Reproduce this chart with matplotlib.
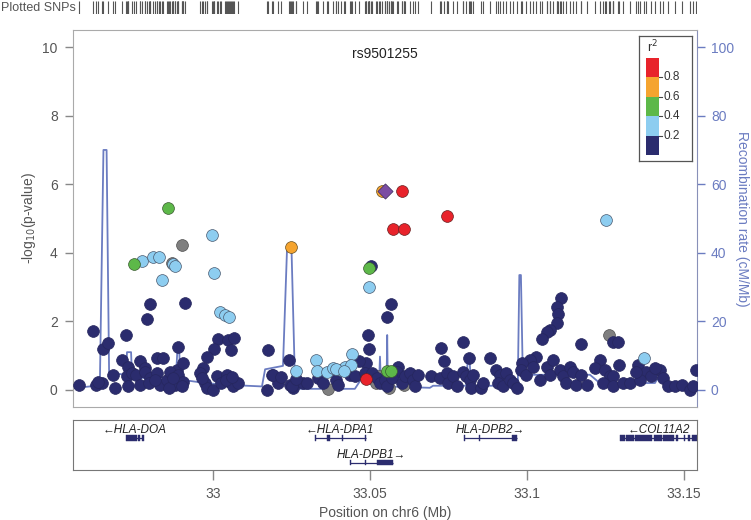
import matplotlib
matplotlib.use("Agg")
import matplotlib.pyplot as plt
from matplotlib.patches import Rectangle

plt.rcParams['font.family'] = ['Liberation Sans', 'DejaVu Sans']

# ---------------- data ----------------
navy_pos = [32.9619, 32.9651, 32.9665, 32.9722, 32.9799, 32.9790, 32.9912, 32.9889, 33.0016, 33.0049,
            33.0068, 33.0003, 33.0058, 33.0176, 32.9980, 33.0242, 33.0493, 33.0498, 33.0489, 33.0566,
            33.0553, 33.0502, 33.1108, 33.1095, 33.1098, 33.1095, 33.1073, 33.1064, 33.1047, 33.1172,
            33.0795, 33.0728, 33.0882, 33.0816, 33.0735, 33.1030, 33.1010, 33.0986, 33.1232, 33.1275,
            33.1291, 33.1294, 33.1354, 32.9709, 32.9730, 32.9768, 32.9783, 32.9821, 32.9842, 32.9884,
            32.9905, 32.9969, 33.0465, 33.0590, 33.0585, 33.0903, 33.1381, 33.1424, 33.1538,
            32.9573, 32.9626, 32.9646, 32.9683, 32.9688, 32.9725, 32.9741, 32.9730, 32.9756, 32.9768,
            32.9783, 32.9799, 32.9821, 32.9831, 32.9853, 32.9863, 32.9879, 32.9890, 32.9905, 32.9959,
            32.9975, 32.9980, 33.0001, 33.0012, 33.0044, 33.0054, 33.0065, 33.0081, 33.0171, 33.0187,
            33.0208, 33.0245, 33.0256, 33.0288, 32.9635, 32.9797, 32.9815, 32.9860, 32.9872, 32.9900,
            32.9965, 33.0025, 33.0040, 33.0060, 33.0190, 33.0217, 33.0251, 33.0264,
            33.0298, 33.0335, 33.0351, 33.0393, 33.0399, 33.0436, 33.0452, 33.0484, 33.0505, 33.0521,
            33.0532, 33.0548, 33.0553, 33.0569, 33.0601, 33.0611, 33.0627, 33.0638, 33.0643, 33.0654,
            33.0696, 33.0723, 33.0744, 33.0749, 33.0765, 33.0776, 33.0797, 33.0807, 33.0818, 33.0823,
            33.0829, 33.0855, 33.0861, 33.0914, 33.0908, 33.0924, 33.0935, 33.0946, 33.0956, 33.0967,
            33.0982, 33.0998, 33.1020, 33.1041, 33.1063, 33.1073, 33.1084, 33.1105, 33.1116, 33.1126,
            33.1137, 33.1148, 33.1158, 33.1174, 33.1190, 33.1217, 33.1248, 33.1264, 33.1243, 33.1275,
            33.1275, 33.1307, 33.1328, 33.1397, 33.1408, 33.1434, 33.1450, 33.1471, 33.1493, 33.1519,
            33.1530, 33.1360, 33.1347]
navy_logp = [1.73, 1.19, 1.36, 1.59, 2.51, 2.06, 2.53, 1.25, 1.48, 1.46,
             1.51, 1.19, 1.15, 1.15, 0.95, 0.87, 1.60, 1.19, 0.78, 2.51,
             2.14, 3.60, 2.69, 2.43, 2.22, 1.94, 1.75, 1.70, 1.49, 1.33,
             1.41, 1.21, 0.94, 0.92, 0.83, 0.97, 0.87, 0.78, 0.87, 1.41,
             1.41, 0.73, 0.73, 0.87, 0.68, 0.83, 0.63, 0.92, 0.94, 0.58,
             0.78, 0.63, 0.83, 0.68, 0.53, 0.58, 0.53, 0.58, 0.58,
             0.13, 0.15, 0.20, 0.44, 0.05, 0.39, 0.49, 0.10, 0.44, 0.15,
             0.53, 0.34, 0.49, 0.15, 0.29, 0.53, 0.15, 0.44, 0.24, 0.49,
             0.20, 0.05, 0.00, 0.39, 0.44, 0.24, 0.10, 0.20, 0.00, 0.44,
             0.20, 0.15, 0.05, 0.20, 0.24, 0.20, 0.30, 0.06, 0.34, 0.10,
             0.35, 0.20, 0.30, 0.38, 0.44, 0.38, 0.10, 0.32,
             0.20, 0.34, 0.20, 0.29, 0.15, 0.44, 0.39, 0.49, 0.49, 0.34,
             0.20, 0.29, 0.10, 0.34, 0.20, 0.39, 0.49, 0.29, 0.10, 0.44,
             0.39, 0.34, 0.49, 0.20, 0.39, 0.10, 0.53, 0.39, 0.29, 0.05,
             0.44, 0.05, 0.20, 0.44, 0.20, 0.10, 0.49, 0.29, 0.20, 0.05,
             0.58, 0.44, 0.68, 0.29, 0.68, 0.44, 0.87, 0.58, 0.39, 0.20,
             0.68, 0.53, 0.15, 0.44, 0.15, 0.63, 0.58, 0.39, 0.20, 0.39,
             0.10, 0.20, 0.20, 0.39, 0.63, 0.34, 0.10, 0.10, 0.15, 0.00,
             0.10, 0.29, 0.52]

lblue_pos = [32.9996, 32.9774, 32.9810, 32.9827, 32.9874, 32.9880, 32.9839, 33.0002, 33.0022, 33.0038,
             33.0052, 33.1252, 33.1374, 33.0497, 33.0328, 33.0263, 33.0330, 33.0362, 33.0383, 33.0407,
             33.0421, 33.0442, 33.0440, 33.0393, 33.0417]
lblue_logp = [4.53, 3.75, 3.89, 3.89, 3.67, 3.62, 3.21, 3.41, 2.28, 2.19,
              2.12, 4.97, 0.92, 3.01, 0.87, 0.55, 0.55, 0.53, 0.63, 0.58,
              0.68, 1.05, 0.73, 0.61, 0.56]

green_pos = [32.9856, 32.9747, 33.0497, 33.0555, 33.0566]
green_logp = [5.30, 3.67, 3.55, 0.55, 0.55]

orange_pos = [33.0247, 33.0540]
orange_logp = [4.16, 5.80]

red_pos = [33.0603, 33.0572, 33.0607, 33.0744, 33.0489]
red_logp = [5.80, 4.70, 4.70, 5.08, 0.32]

gray_pos = [32.9900, 32.9869, 33.1262, 33.0367, 33.0520, 33.0560, 33.0610, 33.0530]
gray_logp = [4.23, 3.70, 1.60, 0.02, 0.20, 0.05, 0.15, 0.40]

index_snp = "rs9501255"
index_pos = 33.0548
index_logp = 5.80

rec_pos = [32.9554, 32.9608, 32.9631, 32.9640, 32.9651, 32.9661, 32.9669, 32.9723, 32.9726, 32.9739,
           32.9742, 32.9882, 32.9887, 32.9892, 32.9896, 32.9975, 33.0038, 33.0156, 33.0166, 33.0223,
           33.0236, 33.0250, 33.0261, 33.0277, 33.0452, 33.0475, 33.0487, 33.0506, 33.0529, 33.0532,
           33.0535, 33.0553, 33.0555, 33.0557, 33.0691, 33.0701, 33.0807, 33.0811, 33.0818, 33.0822,
           33.0971, 33.0976, 33.0981, 33.0987, 33.1201, 33.1232, 33.1408, 33.1424, 33.1439, 33.1541]
rec_rate = [0.5, 1.0, 2.5, 4.0, 70.0, 70.0, 5.0, 4.4, 11.0, 11.0,
            3.5, 3.5, 12.5, 12.5, 3.0, 2.0, 1.5, 1.0, 6.0, 7.0,
            41.5, 41.5, 3.0, 0.3, 0.3, 3.5, 2.5, 1.5, 2.0, 9.7,
            2.0, 2.0, 16.0, 1.0, 0.6, 1.2, 1.2, 8.0, 8.0, 1.2,
            1.2, 33.5, 33.5, 4.4, 4.4, 2.0, 2.0, 4.4, 1.0, 0.5]

gene_names = ["HLA-DOA", "HLA-DPA1", "HLA-DPB1", "HLA-DPB2", "COL11A2"]
gene_start = [32.9723, 33.0325, 33.0436, 33.0799, 33.1296]
gene_end = [32.9777, 33.0486, 33.0574, 33.0967, 33.1560]
gene_strand = ["-", "-", "+", "+", "-"]
gene_row = [0, 0, 1, 0, 0]
gene_exons = [
    [(32.9723, 32.9757), (32.9762, 32.9765), (32.9775, 32.9777)],
    [(33.0325, 33.0329), (33.0364, 33.0372), (33.0411, 33.0413), (33.0484, 33.0486)],
    [(33.0436, 33.0438), (33.0484, 33.0486), (33.0522, 33.0574)],
    [(33.0799, 33.0801), (33.0846, 33.0848), (33.0953, 33.0967)],
    [(33.1296, 33.1312), (33.1316, 33.1340), (33.1344, 33.1400), (33.1404, 33.1430),
     (33.1434, 33.1470), (33.1474, 33.1482), (33.1500, 33.1504), (33.1512, 33.1520),
     (33.1526, 33.1560)],
]

r2_bounds = [0.2, 0.4, 0.6, 0.8]
xticks = [33.0, 33.05, 33.1, 33.15]
xticklabels = ["33", "33.05", "33.1", "33.15"]

# ---------------- styles ----------------
C_NAVY = '#2B2C6E'
C_LBLUE = '#8DCDF0'
C_GREEN = '#5DB849'
C_ORANGE = '#F5A42F'
C_RED = '#E8232B'
C_GRAY = '#7F7F7F'
C_PURPLE = '#7B4DA3'
C_REC = '#6B7CC1'
C_AXIS = '#888888'
C_TEXT = '#555555'
FS = 10

W, H = 751, 520
fig = plt.figure(figsize=(W / 100, H / 100), dpi=100)

XL = (32.9554, 33.1542)
ax = fig.add_axes([73 / W, 1 - 407 / H, 624 / W, 377 / H])
ax2 = ax.twinx()
ax.set_zorder(ax2.get_zorder() + 1)
ax.patch.set_visible(False)

ax2.plot(rec_pos, rec_rate, color=C_REC, lw=1.3, zorder=1)
ax2.set_ylim(-5, 105)
ax2.set_yticks([0, 20, 40, 60, 80, 100])
ax2.tick_params(axis='y', colors=C_REC, labelcolor=C_REC, labelsize=FS, length=6, width=1, pad=4)
ax2.set_ylabel("Recombination rate (cM/Mb)", color=C_REC, fontsize=FS, rotation=270, labelpad=11)
for s in ['left', 'top', 'bottom']:
    ax2.spines[s].set_visible(False)
ax2.spines['right'].set_color('#8890B8')

ms = 72
ax.scatter(navy_pos, navy_logp, s=ms, c=C_NAVY, edgecolors='#26275E', linewidths=0.5, zorder=3)
ax.scatter(gray_pos, gray_logp, s=ms, c=C_GRAY, edgecolors='#505050', linewidths=0.5, zorder=2.9)
ax.scatter(lblue_pos, lblue_logp, s=ms, c=C_LBLUE, edgecolors='#4A5A70', linewidths=0.5, zorder=4)
ax.scatter(green_pos, green_logp, s=ms, c=C_GREEN, edgecolors='#3A5A30', linewidths=0.5, zorder=5)
ax.scatter(orange_pos, orange_logp, s=ms, c=C_ORANGE, edgecolors='#6A5020', linewidths=0.5, zorder=5)
ax.scatter(red_pos, red_logp, s=ms, c=C_RED, edgecolors='#6A2020', linewidths=0.5, zorder=6)
ax.scatter([index_pos], [index_logp], s=60, marker='D', c=C_PURPLE, edgecolors='#3A2A5A',
           linewidths=0.5, zorder=7)
ax.text(index_pos, 9.8, index_snp, ha='center', va='center', fontsize=FS, color='#222222')

ax.set_xlim(*XL)
ax2.set_xlim(*XL)
ax.set_ylim(-0.5, 10.5)
ax.set_yticks([0, 2, 4, 6, 8, 10])
ax.set_xticks([])
ax.tick_params(axis='y', colors=C_AXIS, labelcolor=C_TEXT, labelsize=FS, length=6, width=1, pad=5)
ax.set_ylabel("-log$_{10}$(p-value)", color=C_TEXT, fontsize=FS, labelpad=3)
for s in ['left', 'top', 'bottom']:
    ax.spines[s].set_color('#AAAAAA')
ax.spines['right'].set_visible(False)

# ---------------- legend ----------------
lg = fig.add_axes([639 / W, 1 - 161 / H, 53 / W, 125 / H])
lg.set_xlim(0, 53)
lg.set_ylim(125, 0)
lg.set_xticks([])
lg.set_yticks([])
for s in lg.spines.values():
    s.set_color('#555555')
    s.set_linewidth(0.9)
band_cols = [C_RED, C_ORANGE, C_GREEN, C_LBLUE, C_NAVY]
band_h = 97 / 5
for i, col in enumerate(band_cols):
    lg.add_patch(Rectangle((7, 22 + i * band_h), 13, band_h, facecolor=col, edgecolor='none'))
for i, b in enumerate(sorted(r2_bounds, reverse=True)):
    yy = 22 + (i + 1) * band_h
    lg.plot([20, 23], [yy, yy], color='#444444', lw=0.8)
    lg.text(25, yy, f"{b:.1f}", fontsize=8.5, va='center', ha='left', color='#333333')
lg.text(13.5, 11, "r$^2$", fontsize=9, ha='center', va='center', color='#333333')

# ---------------- genes ----------------
gx = fig.add_axes([73 / W, 1 - 470 / H, 624 / W, 50 / H])
gx.set_xlim(*XL)
gx.set_ylim(0, 1)
gx.set_yticks([])
row_body = [0.64, 0.15]
row_label = [0.80, 0.31]
for name, st, en, strand, row, exons in zip(gene_names, gene_start, gene_end, gene_strand,
                                             gene_row, gene_exons):
    yb = row_body[row]
    gx.plot([st, min(en, XL[1])], [yb, yb], color=C_NAVY, lw=0.9, solid_capstyle='butt')
    for a, b in exons:
        gx.add_patch(Rectangle((a, yb - 0.055), max(b - a, 0.0004), 0.11, facecolor=C_NAVY,
                               edgecolor=C_NAVY, lw=0.3))
    mid = (st + min(en, XL[1])) / 2
    lab = ("\u2190" + name) if strand == '-' else (name + "\u2192")
    gx.text(mid, row_label[row], lab, ha='center', va='center', fontsize=8.5, style='italic',
            color='#222222', family=['Liberation Sans', 'DejaVu Sans'])
gx.set_xticks(xticks)
gx.set_xticklabels(xticklabels)
gx.tick_params(axis='x', colors=C_AXIS, labelcolor=C_TEXT, labelsize=FS, length=7, width=1, pad=5)
for s in gx.spines.values():
    s.set_color('#777777')
gx.set_xlabel("Position on chr6 (Mb)", color=C_TEXT, fontsize=FS, labelpad=4)

# ---------------- rug ----------------
all_pos = (navy_pos + lblue_pos + green_pos + orange_pos + red_pos + gray_pos + [index_pos])
rg = fig.add_axes([73 / W, 1 - 14 / H, 624 / W, 13 / H])
rg.set_xlim(*XL)
rg.set_ylim(0, 1)
rg.vlines(all_pos, 0, 1, color='#555555', lw=0.8)
rg.axis('off')
fig.text(1 / W, 1 - 8 / H, "Plotted SNPs", fontsize=9, color=C_TEXT, va='center', ha='left')

fig.savefig("out.png", dpi=100)
